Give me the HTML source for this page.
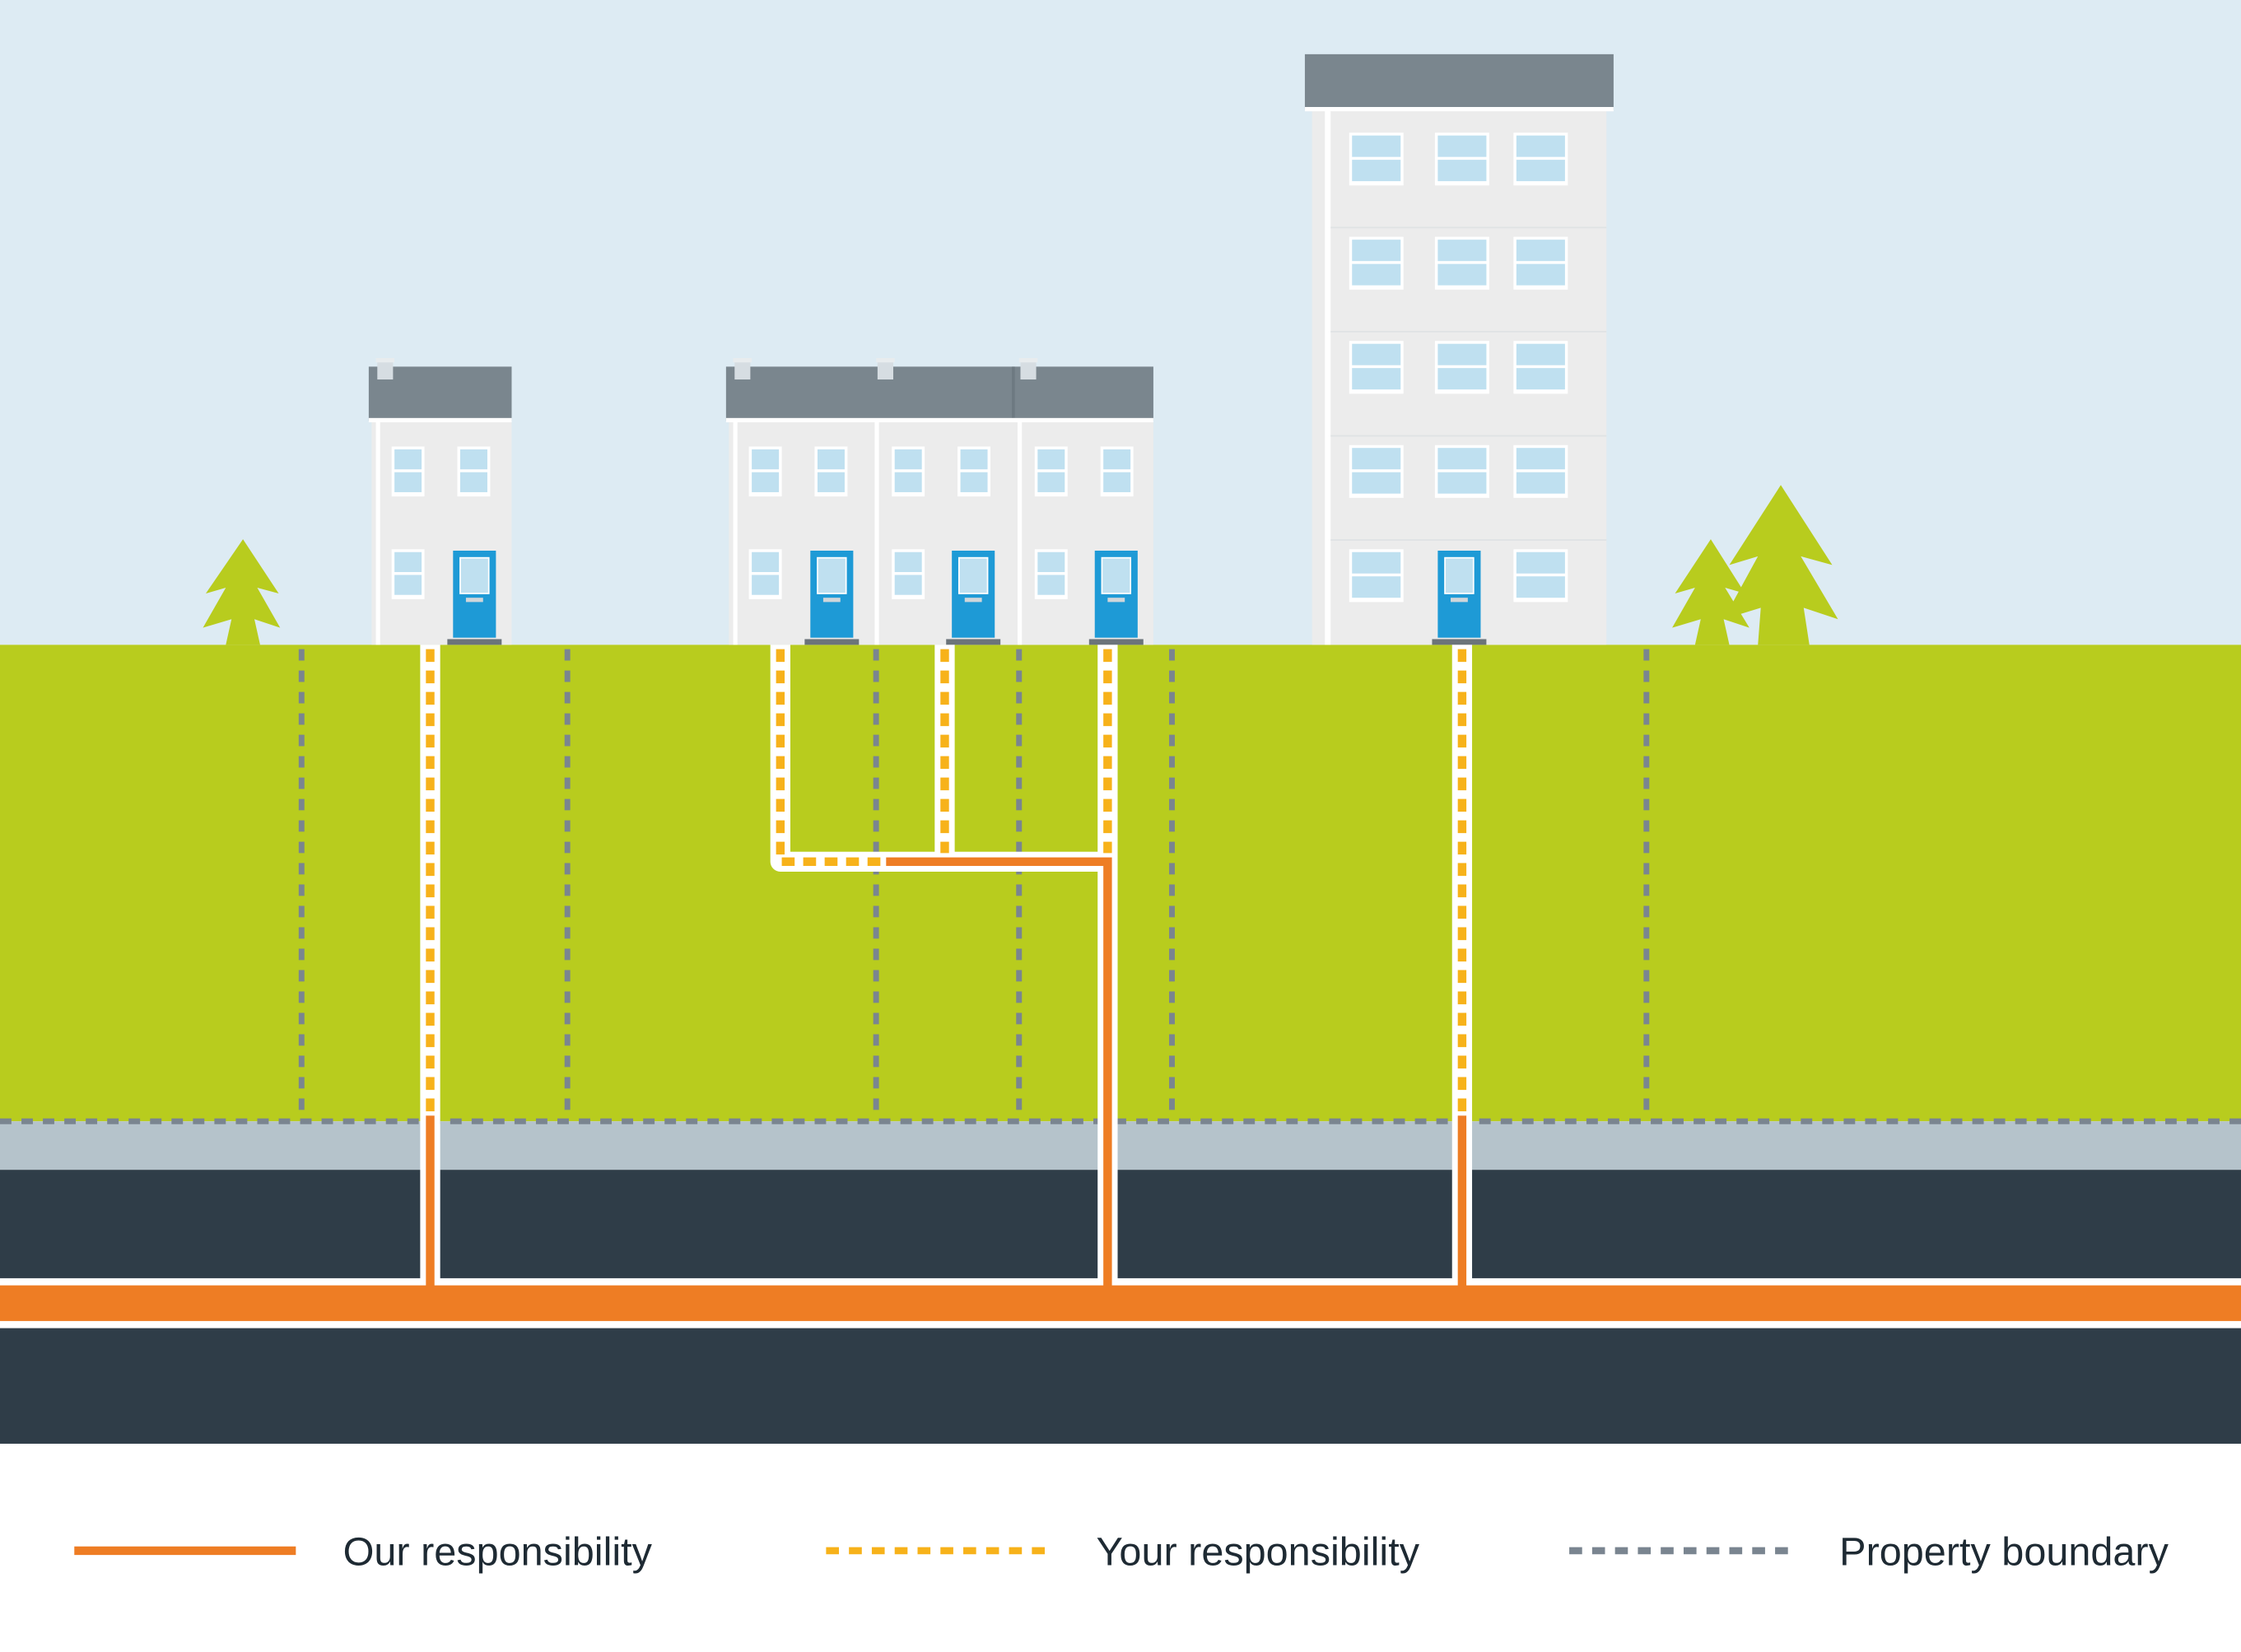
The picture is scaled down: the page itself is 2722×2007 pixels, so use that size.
<!DOCTYPE html>
<html><head><meta charset="utf-8"><style>html,body{margin:0;padding:0;background:#fff}svg{display:block}</style></head>
<body>
<svg width="2722" height="2007" viewBox="0 0 1568 1158" preserveAspectRatio="none" xmlns="http://www.w3.org/2000/svg">
<defs>
<g id="win"><rect x="0" y="0" width="23" height="35" fill="#fff"/><rect x="2" y="2" width="19" height="14" fill="#bfe0f0"/><rect x="2" y="18" width="19" height="14" fill="#bfe0f0"/></g>
<g id="twin"><rect x="0" y="0" width="38" height="37" fill="#fff"/><rect x="2" y="2" width="34" height="15" fill="#bfe0f0"/><rect x="2" y="19" width="34" height="15" fill="#bfe0f0"/></g>
<g id="door"><rect x="0" y="0" width="30" height="61" fill="#1e9ad6"/><rect x="5" y="5" width="20" height="25" fill="#bfe0f0" stroke="#fff" stroke-width="1"/><rect x="9" y="33" width="12" height="3" fill="#d0d6da"/><rect x="-4" y="62" width="38" height="4" fill="#6b747a"/></g>
<g id="chim"><rect x="0" y="3" width="11" height="12" fill="#d6dde2"/><rect x="-1" y="0" width="13" height="3" fill="#e8ecee"/></g>
</defs>
<rect x="0" y="0" width="1568" height="452" fill="#ddebf3"/>
<rect x="0" y="452" width="1568" height="334" fill="#b8cc1e"/>
<rect x="0" y="786" width="1568" height="34" fill="#b5c3cb"/>
<rect x="0" y="820" width="1568" height="192" fill="#2f3d48"/>
<rect x="0" y="896" width="1568" height="35" fill="#fff"/>
<rect x="0" y="901" width="1568" height="25" fill="#ee7d24"/>

<g fill="#b8cc1e">
<polygon points="170,378 195,416 180,412 196,440 178,434 182,452 158,452 162,434 142,440 158,412 144,416"/>
<polygon points="1197,378 1221,416 1207,412 1224,440 1206,434 1210,452 1186,452 1190,434 1170,440 1186,412 1172,416"/>
<polygon points="1246,340 1282,396 1260,390 1286,434 1262,426 1266,452 1230,452 1232,426 1206,434 1230,390 1210,396"/>
</g>

<rect x="260" y="295" width="98" height="157" fill="#ececec"/>
<rect x="263" y="295" width="3" height="157" fill="#fff"/>
<rect x="258" y="257" width="100" height="38" fill="#7a868e"/>
<rect x="258" y="293" width="100" height="3" fill="#fff"/>
<use href="#chim" x="264" y="251"/>
<use href="#win" x="274" y="313"/><use href="#win" x="320" y="313"/><use href="#win" x="274" y="385"/>
<use href="#door" x="317" y="386"/>

<rect x="510" y="295" width="297" height="157" fill="#ececec"/>
<rect x="513" y="295" width="3" height="157" fill="#fff"/>
<rect x="612" y="295" width="3" height="157" fill="#fff"/>
<rect x="712" y="295" width="3" height="157" fill="#fff"/>
<rect x="508" y="257" width="299" height="38" fill="#7a868e"/>
<rect x="708" y="257" width="2" height="38" fill="#6d7981"/>
<rect x="508" y="293" width="299" height="3" fill="#fff"/>
<use href="#chim" x="514" y="251"/><use href="#chim" x="614" y="251"/><use href="#chim" x="714" y="251"/>
<use href="#win" x="524" y="313"/><use href="#win" x="570" y="313"/><use href="#win" x="624" y="313"/><use href="#win" x="670" y="313"/><use href="#win" x="724" y="313"/><use href="#win" x="770" y="313"/>
<use href="#win" x="524" y="385"/><use href="#win" x="624" y="385"/><use href="#win" x="724" y="385"/>
<use href="#door" x="567" y="386"/><use href="#door" x="666" y="386"/><use href="#door" x="766" y="386"/>

<rect x="918" y="77" width="206" height="375" fill="#ececec"/>
<rect x="927" y="77" width="4" height="375" fill="#fff"/>
<g fill="#dfe2e4"><rect x="931" y="159" width="193" height="1"/><rect x="931" y="232" width="193" height="1"/><rect x="931" y="305" width="193" height="1"/><rect x="931" y="378" width="193" height="1"/></g>
<rect x="913" y="38" width="216" height="39" fill="#7a868e"/>
<rect x="913" y="75" width="216" height="3" fill="#fff"/>
<g>
<use href="#twin" x="944" y="93"/><use href="#twin" x="1004" y="93"/><use href="#twin" x="1059" y="93"/>
<use href="#twin" x="944" y="166"/><use href="#twin" x="1004" y="166"/><use href="#twin" x="1059" y="166"/>
<use href="#twin" x="944" y="239"/><use href="#twin" x="1004" y="239"/><use href="#twin" x="1059" y="239"/>
<use href="#twin" x="944" y="312"/><use href="#twin" x="1004" y="312"/><use href="#twin" x="1059" y="312"/>
<use href="#twin" x="944" y="385"/><use href="#twin" x="1059" y="385"/>
</g>
<use href="#door" x="1006" y="386"/>

<g stroke="#7a8590" stroke-width="4" stroke-dasharray="8,7" fill="none">
<line x1="211" y1="455" x2="211" y2="785"/><line x1="397" y1="455" x2="397" y2="785"/>
<line x1="613" y1="455" x2="613" y2="785"/><line x1="713" y1="455" x2="713" y2="785"/>
<line x1="820" y1="455" x2="820" y2="785"/><line x1="1152" y1="455" x2="1152" y2="785"/>
<line x1="0" y1="786" x2="1568" y2="786"/>
</g>

<g stroke="#fff" stroke-width="14" fill="none" stroke-linejoin="round">
<line x1="301" y1="452" x2="301" y2="900"/>
<line x1="1023" y1="452" x2="1023" y2="900"/>
<polyline points="546,452 546,604 775,604"/>
<line x1="661" y1="452" x2="661" y2="604"/>
<line x1="775" y1="452" x2="775" y2="900"/>
</g>
<g stroke="#f7b21a" stroke-width="6" stroke-dasharray="9,6" fill="none">
<line x1="301" y1="455" x2="301" y2="782"/>
<line x1="1023" y1="455" x2="1023" y2="782"/>
<polyline points="546,455 546,604 620,604"/>
<line x1="661" y1="455" x2="661" y2="598"/>
<line x1="775" y1="455" x2="775" y2="598"/>
</g>
<g stroke="#ee7d24" stroke-width="6" fill="none">
<line x1="301" y1="782" x2="301" y2="903"/>
<line x1="1023" y1="782" x2="1023" y2="903"/>
<polyline points="620,604 775,604 775,903"/>
</g>

<line x1="52" y1="1087" x2="207" y2="1087" stroke="#ee7d24" stroke-width="6"/>
<line x1="578" y1="1087" x2="735" y2="1087" stroke="#f7b21a" stroke-width="5" stroke-dasharray="9,7"/>
<line x1="1098" y1="1087" x2="1255" y2="1087" stroke="#7a8590" stroke-width="5" stroke-dasharray="9,7"/>
<g font-family="Liberation Sans, sans-serif" font-size="28" fill="#1e2a33">
<text x="240" y="1097">Our responsibility</text>
<text x="767" y="1097">Your responsibility</text>
<text x="1287" y="1097">Property boundary</text>
</g>
</svg>
</body></html>
